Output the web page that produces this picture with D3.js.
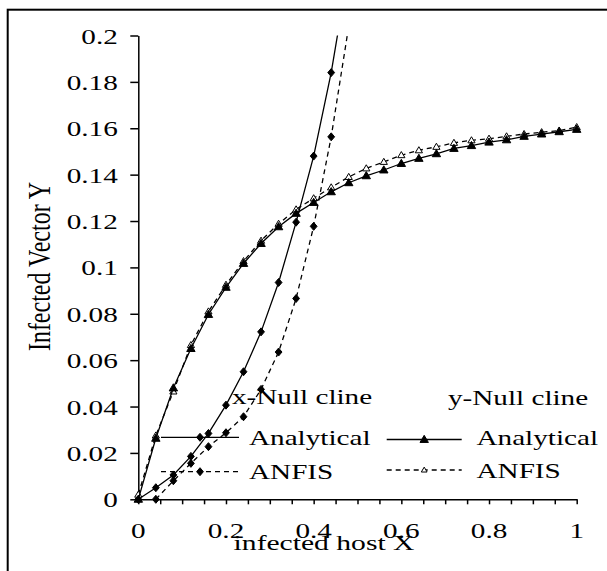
<!DOCTYPE html>
<html>
<head>
<meta charset="utf-8">
<script src="https://cdn.jsdelivr.net/npm/d3@7"></script>
<style>
  body { margin: 0; background: #fff; }
  svg { display: block; }
  svg text { font-family: "Liberation Serif", "DejaVu Serif", "Times New Roman", serif !important; fill: #000; }
</style>
</head>
<body>
<svg id="chart" width="607" height="571"></svg>
<script>
// x-nullcline (host equation): analytical solution and ANFIS estimate
const xNullHostAnalytical = [0, 0.04, 0.08, 0.12, 0.16, 0.2, 0.24, 0.28, 0.32, 0.36, 0.40, 0.44, 0.48];
const xNullVectorAnalytical = [0, 0.005, 0.0105, 0.0185, 0.0284, 0.0406, 0.055, 0.0722, 0.0935, 0.1195, 0.148, 0.184, 0.229];
const xNullHostAnfis = [0.04, 0.08, 0.12, 0.16, 0.2, 0.24, 0.28, 0.32, 0.36, 0.40, 0.44, 0.48];
const xNullVectorAnfis = [0, 0.008, 0.0155, 0.0227, 0.0287, 0.0356, 0.0474, 0.0635, 0.0866, 0.1177, 0.1563, 0.204];

// y-nullcline (vector equation)
const yNullHost = [0, 0.04, 0.08, 0.12, 0.16, 0.2, 0.24, 0.28, 0.32, 0.36, 0.40, 0.44, 0.48,
                   0.52, 0.56, 0.60, 0.64, 0.68, 0.72, 0.76, 0.80, 0.84, 0.88, 0.92, 0.96, 1.0];
const yNullVectorAnalytical = [0, 0.0263, 0.048, 0.065, 0.0797, 0.0914, 0.1017, 0.1103, 0.1175, 0.1233, 0.128, 0.1326, 0.1365,
                               0.1395, 0.142, 0.1448, 0.147, 0.149, 0.1513, 0.1525, 0.154, 0.155, 0.1565, 0.1575, 0.1585, 0.1595];
const yNullVectorAnfis = [0.002, 0.0275, 0.0465, 0.0665, 0.081, 0.0925, 0.1027, 0.1115, 0.1188, 0.125, 0.1298, 0.1345, 0.139,
                          0.1427, 0.1455, 0.1484, 0.1505, 0.152, 0.1537, 0.1548, 0.1555, 0.1565, 0.1575, 0.1583, 0.159, 0.1605];

// axes
const xTickLabels = [0, 0.2, 0.4, 0.6, 0.8, 1];
const xMinorTicks = d3.range(0, 21).map(i => +(i * 0.05).toFixed(2));
const yTickLabels = [0, 0.02, 0.04, 0.06, 0.08, 0.1, 0.12, 0.14, 0.16, 0.18, 0.2];
const xTitle = "infected host X";
const yTitle = "Infected Vector Y";

// legend
const legendHeaders = ["x-Null cline", "y-Null cline"];
const legendItems = ["Analytical", "ANFIS"];

const FONT = "'Liberation Serif', 'DejaVu Serif', 'Times New Roman', serif";
const svg = d3.select("#chart");
const x = d3.scaleLinear().domain([0, 1]).range([138.3, 576.7]);
const y = d3.scaleLinear().domain([0, 0.2]).range([499.3, 35.5]);

const STRETCH = 1.39; // horizontally widened lettering

// frame
svg.append("rect")
  .attr("x", 7.7).attr("y", 9.7).attr("width", 640).attr("height", 620)
  .attr("fill", "none").attr("stroke", "#000").attr("stroke-width", 2);

// clip for the plotting area
svg.append("clipPath").attr("id", "plotClip")
  .append("rect")
  .attr("x", x(0)).attr("y", y(0.2))
  .attr("width", x(1) - x(0)).attr("height", y(0) - y(0.2));

// y axis
const yAxis = svg.append("g")
  .attr("transform", `translate(${x(0)},0)`)
  .call(d3.axisLeft(y).tickValues(yTickLabels).tickSize(8).tickSizeOuter(0)
        .tickFormat(d => String(+d.toFixed(2))));
yAxis.attr("font-family", FONT).attr("font-size", 21);
yAxis.select(".domain").attr("stroke", "#000").attr("stroke-width", 1.5);
yAxis.selectAll(".tick line").attr("stroke", "#000").attr("stroke-width", 1.5);
yAxis.selectAll(".tick text")
  .attr("x", null).attr("dy", null)
  .attr("transform", `translate(-20.5,7.5) scale(${STRETCH},1)`)
  .style("font-family", FONT)
  .attr("font-size", 21)
  .attr("fill", "#000");

// x axis: minor ticks every 0.05, labels every 0.2
const xAxis = svg.append("g")
  .attr("transform", `translate(0,${y(0)})`)
  .call(d3.axisBottom(x).tickValues(xMinorTicks).tickSize(5).tickSizeOuter(0).tickFormat(""));
xAxis.select(".domain").attr("stroke", "#000").attr("stroke-width", 1.5);
xAxis.selectAll(".tick line").attr("stroke", "#000").attr("stroke-width", 1.5);
xAxis.selectAll(".tick text").remove();

svg.append("g").selectAll("text")
  .data(xTickLabels)
  .join("text")
  .style("font-family", FONT)
  .attr("text-anchor", "middle")
  .attr("font-size", 21)
  .attr("transform", d => `translate(${x(d)},538) scale(${STRETCH},1)`)
  .text(d => String(d));

// axis titles
svg.append("text")
  .style("font-family", FONT)
  .attr("text-anchor", "middle")
  .attr("font-size", 20)
  .attr("transform", `translate(324,550) scale(1.48,1)`)
  .text(xTitle);

svg.append("text")
  .style("font-family", FONT)
  .attr("text-anchor", "middle")
  .attr("font-size", 24)
  .attr("transform", `translate(50,266.5) rotate(-90) scale(1,1.35)`)
  .text(yTitle);

// marker shapes
const diamond = {
  draw(ctx, r) {
    ctx.moveTo(0, -r); ctx.lineTo(r * 0.85, 0); ctx.lineTo(0, r); ctx.lineTo(-r * 0.85, 0); ctx.closePath();
  }
};
const triangle = {
  draw(ctx, r) {
    ctx.moveTo(0, -r); ctx.lineTo(r, r * 0.7); ctx.lineTo(-r, r * 0.7); ctx.closePath();
  }
};

const series = [
  { xs: xNullHostAnfis, ys: xNullVectorAnfis, dash: "5,4", shape: diamond, r: 4, fill: "#000" },
  { xs: xNullHostAnalytical, ys: xNullVectorAnalytical, dash: null, shape: diamond, r: 4, fill: "#000" },
  { xs: yNullHost, ys: yNullVectorAnfis, dash: "5,4", shape: triangle, r: 3.6, fill: "#fff" },
  { xs: yNullHost, ys: yNullVectorAnalytical, dash: null, shape: triangle, r: 4.2, fill: "#000" }
];

const line = d3.line().x(d => x(d[0])).y(d => y(d[1]));
const plot = svg.append("g");

series.forEach(s => {
  const pts = s.xs.map((v, i) => [v, s.ys[i]]);
  plot.append("path")
    .attr("clip-path", "url(#plotClip)")
    .attr("d", line(pts))
    .attr("fill", "none")
    .attr("stroke", "#000")
    .attr("stroke-width", 1.3)
    .attr("stroke-dasharray", s.dash);
  plot.append("g").selectAll("path")
    .data(pts.filter(p => p[1] <= 0.2))
    .join("path")
    .attr("transform", p => `translate(${x(p[0])},${y(p[1])})`)
    .attr("d", d3.symbol().type(s.shape).size(s.r))
    .attr("fill", s.fill)
    .attr("stroke", "#000")
    .attr("stroke-width", 1);
});

// legend
const legendCols = [
  { headX: 232, headY: 403.5, lineX0: 161, lineX1: 239, textX: 249, rows: [437.3, 471.7], base: [445, 479],
    marks: [series[1], series[0]] },
  { headX: 448, headY: 405, lineX0: 386.7, lineX1: 461.7, textX: 476.5, rows: [439.5, 470], base: [444.5, 477.5],
    marks: [series[3], series[2]] }
];

const legend = svg.append("g");
legendCols.forEach((c, ci) => {
  legend.append("text")
    .style("font-family", FONT)
    .attr("font-size", 21)
    .attr("transform", `translate(${c.headX},${c.headY}) scale(${STRETCH},1)`)
    .text(legendHeaders[ci]);
  legendItems.forEach((label, ri) => {
    const s = c.marks[ri];
    legend.append("line")
      .attr("x1", c.lineX0).attr("x2", c.lineX1)
      .attr("y1", c.rows[ri]).attr("y2", c.rows[ri])
      .attr("stroke", "#000").attr("stroke-width", 1.3)
      .attr("stroke-dasharray", s.dash);
    legend.append("path")
      .attr("transform", `translate(${(c.lineX0 + c.lineX1) / 2},${c.rows[ri]})`)
      .attr("d", d3.symbol().type(s.shape).size(s.r * (ri === 1 && ci === 1 ? 0.8 : 1))())
      .attr("fill", s.fill).attr("stroke", "#000").attr("stroke-width", 1);
    legend.append("text")
      .style("font-family", FONT)
      .attr("font-size", 21)
      .attr("transform", `translate(${c.textX},${c.base[ri]}) scale(${STRETCH},1)`)
      .text(label);
  });
});
</script>
</body>
</html>
